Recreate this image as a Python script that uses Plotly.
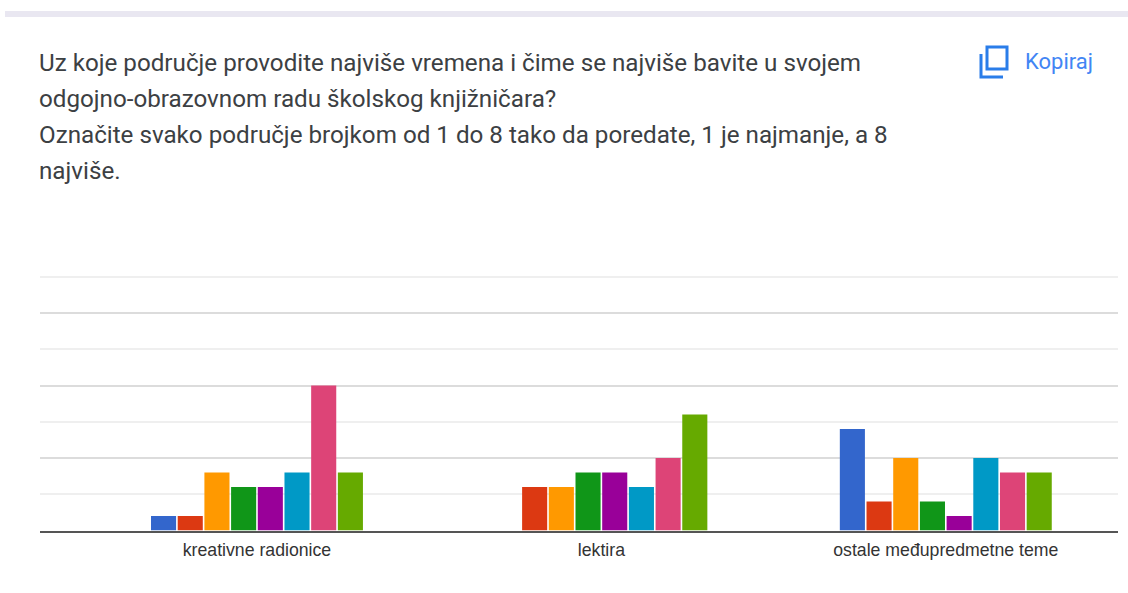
import plotly.graph_objects as go

W, H = 1128, 593
categories = ["kreativne radionice", "lektira", "ostale međupredmetne teme"]
series_names = ["1", "2", "3", "4", "5", "6", "7", "8"]
colors = ["#3366cc", "#dc3912", "#ff9900", "#109618", "#990099", "#0099c6", "#dd4477", "#66aa00"]
rank_1 = [1, 0, 7]
rank_2 = [1, 3, 2]
rank_3 = [4, 3, 5]
rank_4 = [3, 4, 2]
rank_5 = [3, 4, 1]
rank_6 = [4, 3, 5]
rank_7 = [10, 5, 4]
rank_8 = [4, 8, 4]
values = [rank_1, rank_2, rank_3, rank_4, rank_5, rank_6, rank_7, rank_8]
question_lines = [
    "Uz koje područje provodite najviše vremena i čime se najviše bavite u svojem",
    "odgojno-obrazovnom radu školskog knjižničara?",
    "Označite svako područje brojkom od 1 do 8 tako da poredate, 1 je najmanje, a 8",
    "najviše.",
]
line_y = [63, 99, 135, 171]

fig = go.Figure()
for name, vals, col in zip(series_names, values, colors):
    fig.add_trace(go.Bar(name=name, x=categories, y=vals, marker=dict(color=col, line_width=0)))

ann = [dict(text=t, x=37/W, y=1-y/H, xref="paper", yref="paper", xanchor="left", yanchor="middle",
            showarrow=False, font=dict(family="Roboto", size=24.2, color="#3c4043"))
       for t, y in zip(question_lines, line_y)]
ann.append(dict(text="Kopiraj", x=1023/W, y=1-62/H, xref="paper", yref="paper", xanchor="left", yanchor="middle",
                showarrow=False, font=dict(family="Roboto", size=22, color="#4285f4")))

def px_rect(x0, y0, x1, y1, **kw):
    return dict(type="rect", xref="paper", yref="paper", x0=x0/W, x1=x1/W, y0=1-y0/H, y1=1-y1/H, **kw)

shapes = [
    px_rect(5, 11, 1128, 17, fillcolor="#e9e7f1", line_width=0, layer="below"),
    px_rect(987, 47, 1007, 69, fillcolor="rgba(0,0,0,0)", line=dict(color="#2a7de9", width=3)),
    dict(type="path", xref="paper", yref="paper",
         path=f"M {981/W} {1-54/H} L {981/W} {1-77/H} L {1003/W} {1-77/H}",
         line=dict(color="#2a7de9", width=3)),
]

fig.update_layout(
    width=W, height=H, autosize=False,
    margin=dict(l=0, r=0, t=0, b=0),
    paper_bgcolor="white", plot_bgcolor="white",
    showlegend=False, barmode="group", bargap=0.38, bargroupgap=0.06,
    annotations=ann, shapes=shapes,
    xaxis=dict(domain=[40/W, 1118/W], range=[-0.63, 2.5], type="category",
               tickfont=dict(family="Liberation Sans", size=17.7, color="#333333"),
               ticks="", showgrid=False, showline=True, linecolor="#555555", linewidth=2, zeroline=False,
               ticklabelstandoff=2),
    yaxis=dict(domain=[1-530.5/H, 1-275.5/H], range=[0, 17.6], dtick=5, showticklabels=False,
               gridcolor="#dcdcdc", gridwidth=2, zeroline=False, ticks="",
               minor=dict(dtick=2.5, showgrid=True, gridcolor="#efefef", gridwidth=2, ticks="")),
)
fig.write_html("out.html", post_script="document.body.style.margin='0';", config=dict(displayModeBar=False))
